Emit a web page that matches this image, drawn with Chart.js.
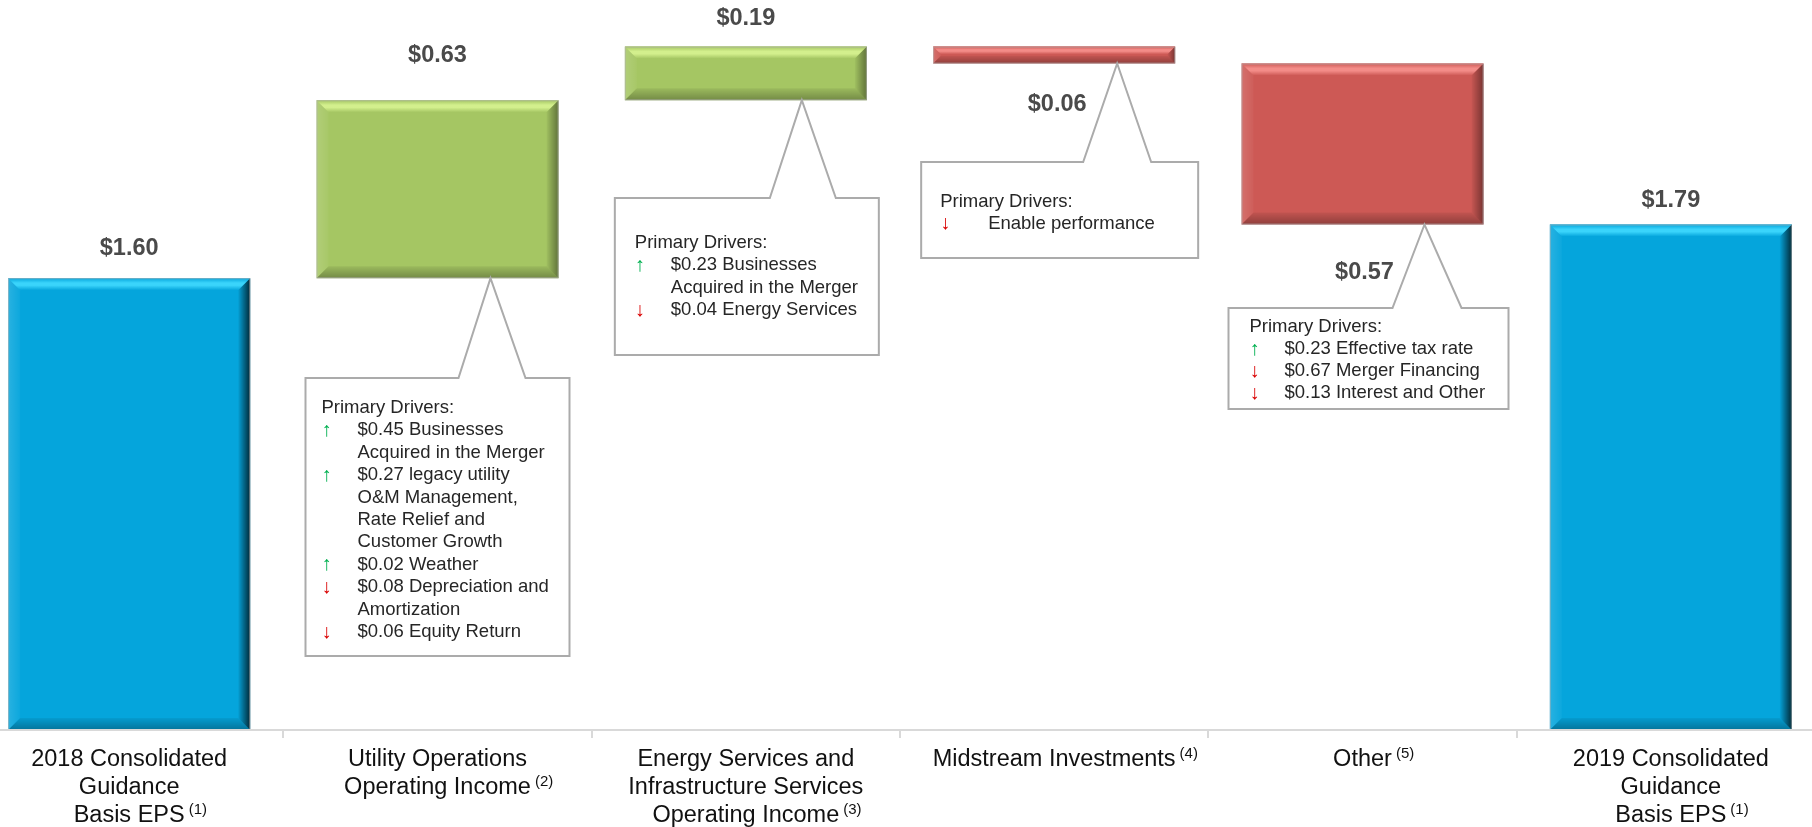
<!DOCTYPE html>
<html>
<head>
<meta charset="utf-8">
<script src="https://cdn.jsdelivr.net/npm/chart.js@4.4.1/dist/chart.umd.min.js"></script>
<style>
  html, body { margin: 0; padding: 0; background: #fff; overflow: hidden; }
  #wrap { position: absolute; left: -25px; top: 0; width: 1850px; height: 827px; }
</style>
</head>
<body>
<div id="wrap"><canvas id="eps"></canvas></div>
<script>
// categories (multi-line) and their footnote marks
const categories = [
  ['2018 Consolidated', 'Guidance', 'Basis EPS'],
  ['Utility Operations', 'Operating Income'],
  ['Energy Services and', 'Infrastructure Services', 'Operating Income'],
  ['Midstream Investments'],
  ['Other'],
  ['2019 Consolidated', 'Guidance', 'Basis EPS']
];
const footnotes = ['(1)', '(2)', '(3)', '(4)', '(5)', '(1)'];

// EPS bridge values ($/share); totals start from zero
const changes = [1.60, 0.63, 0.19, -0.06, -0.57, 1.79];
const isTotal = [true, false, false, false, false, true];

// callout texts: [arrow, text]
const driversUtility = [
  ['', 'Primary Drivers:'],
  ['up', '$0.45 Businesses'],
  ['', 'Acquired in the Merger'],
  ['up', '$0.27 legacy utility'],
  ['', 'O&M Management,'],
  ['', 'Rate Relief and'],
  ['', 'Customer Growth'],
  ['up', '$0.02 Weather'],
  ['down', '$0.08 Depreciation and'],
  ['', 'Amortization'],
  ['down', '$0.06 Equity Return']
];
const driversEnergy = [
  ['', 'Primary Drivers:'],
  ['up', '$0.23 Businesses'],
  ['', 'Acquired in the Merger'],
  ['down', '$0.04 Energy Services']
];
const driversMidstream = [
  ['', 'Primary Drivers:'],
  ['down', 'Enable performance']
];
const driversOther = [
  ['', 'Primary Drivers:'],
  ['up', '$0.23 Effective tax rate'],
  ['down', '$0.67 Merger Financing'],
  ['down', '$0.13 Interest and Other']
];

// floating bars built from the changes
let running = 0;
const floating = changes.map((v, i) => {
  if (isTotal[i]) { running = v; return [0, v]; }
  const start = running;
  running = Math.round((running + v) * 100) / 100;
  return [start, running];
});

const BLUE = '#05A5DC', GREEN = '#A5C663', RED = '#CD5955';
const barColors = changes.map((v, i) => isTotal[i] ? BLUE : (v >= 0 ? GREEN : RED));
const barLights = changes.map((v, i) => isTotal[i] ? '#3AD4FB' : (v >= 0 ? '#D3EF8D' : '#F38C88'));
const edgeDark = changes.map((v, i) => isTotal[i] ? 0.75 : 0.42);

// label placement (pixels from the bar's top or bottom)
const valueLabelPos = [
  { side: 'top', d: 30, dx: 0 },
  { side: 'top', d: 45, dx: 0 },
  { side: 'top', d: 28, dx: 0 },
  { side: 'bottom', d: 41, dx: 3 },
  { side: 'bottom', d: 48, dx: 2 },
  { side: 'top', d: 24, dx: 0 }
];

// callout boxes: x relative to bar centre, y in page pixels
const callouts = [
  { bar: 1, lines: driversUtility, left: -132, right: 132, top: 378, bottom: 656, base: [21, 88], tip: 53, arrowX: 16, textX: 52, firstY: 408, lineH: 22.4 },
  { bar: 2, lines: driversEnergy, left: -131, right: 133, top: 198, bottom: 355, base: [24, 90], tip: 56, arrowX: 20, textX: 56, firstY: 243, lineH: 22.4 },
  { bar: 3, lines: driversMidstream, left: -133, right: 144, top: 162, bottom: 258, base: [29, 97], tip: 63, arrowX: 19, textX: 67, firstY: 202, lineH: 21.5 },
  { bar: 4, lines: driversOther, left: -134, right: 146, top: 308, bottom: 409, base: [30, 99], tip: 62, arrowX: 21, textX: 56, firstY: 327, lineH: 22 }
];

const FONT = "'Liberation Sans', Arial, sans-serif";
Chart.defaults.font.family = FONT;

function barBox(bar) {
  const p = bar.getProps(['x', 'y', 'base', 'width'], true);
  return {
    cx: p.x,
    l: p.x - p.width / 2,
    r: p.x + p.width / 2,
    t: Math.min(p.y, p.base),
    b: Math.max(p.y, p.base)
  };
}

function poly(ctx, pts, fill) {
  ctx.beginPath();
  ctx.moveTo(pts[0][0], pts[0][1]);
  for (let k = 1; k < pts.length; k++) ctx.lineTo(pts[k][0], pts[k][1]);
  ctx.closePath();
  ctx.fillStyle = fill;
  ctx.fill();
}

const bevelPlugin = {
  id: 'bevel',
  afterDatasetsDraw(chart) {
    const ctx = chart.ctx;
    chart.getDatasetMeta(0).data.forEach((bar, i) => {
      const { l, r, t, b } = barBox(bar);
      const s = Math.min(12, (b - t) / 2.2);
      ctx.save();
      let g = ctx.createLinearGradient(0, t, 0, t + s);
      g.addColorStop(0, barColors[i]);
      g.addColorStop(0.4, barLights[i]);
      g.addColorStop(0.6, barLights[i]);
      g.addColorStop(1, barColors[i]);
      poly(ctx, [[l, t], [r, t], [r - s, t + s], [l + s, t + s]], g);
      g = ctx.createLinearGradient(l, 0, l + s, 0);
      g.addColorStop(0, 'rgba(255,255,255,0.14)');
      g.addColorStop(1, 'rgba(255,255,255,0.03)');
      poly(ctx, [[l, t], [l + s, t + s], [l + s, b - s], [l, b]], g);
      g = ctx.createLinearGradient(r - s, 0, r, 0);
      g.addColorStop(0, 'rgba(0,0,0,0.03)');
      g.addColorStop(1, 'rgba(0,0,0,' + edgeDark[i] + ')');
      poly(ctx, [[r, t], [r, b], [r - s, b - s], [r - s, t + s]], g);
      g = ctx.createLinearGradient(0, b - s, 0, b);
      g.addColorStop(0, 'rgba(0,0,0,0.06)');
      g.addColorStop(1, 'rgba(0,0,0,0.3)');
      poly(ctx, [[l, b], [r, b], [r - s, b - s], [l + s, b - s]], g);
      ctx.strokeStyle = 'rgba(175,175,175,0.6)';
      ctx.lineWidth = 1;
      ctx.strokeRect(l + 0.5, t + 0.5, r - l - 1, b - t - 1);
      ctx.restore();
    });
  }
};

const labelPlugin = {
  id: 'labels',
  afterDraw(chart) {
    const ctx = chart.ctx;
    const meta = chart.getDatasetMeta(0);
    ctx.save();

    // value labels
    ctx.font = 'bold 23.5px ' + FONT;
    ctx.fillStyle = '#4A4A4A';
    ctx.textAlign = 'center';
    ctx.textBaseline = 'middle';
    meta.data.forEach((bar, i) => {
      const bx = barBox(bar);
      const pos = valueLabelPos[i];
      const y = pos.side === 'top' ? bx.t - pos.d : bx.b + pos.d;
      ctx.fillText('$' + Math.abs(changes[i]).toFixed(2), bx.cx + pos.dx, y);
    });

    // category labels with footnote marks
    const xs = chart.scales.x;
    categories.forEach((lines, i) => {
      const x = xs.getPixelForValue(i);
      lines.forEach((line, k) => {
        const y = 766 + k * 28;
        ctx.font = '23.5px ' + FONT;
        ctx.fillStyle = '#111';
        ctx.textAlign = 'center';
        ctx.textBaseline = 'alphabetic';
        ctx.fillText(line, x, y);
        if (k === lines.length - 1) {
          const w = ctx.measureText(line).width;
          ctx.font = '15px ' + FONT;
          ctx.textAlign = 'left';
          ctx.fillText(footnotes[i], x + w / 2 + 4, y - 8);
        }
      });
    });

    // callouts
    callouts.forEach(c => {
      const bx = barBox(meta.data[c.bar]);
      const cx = bx.cx;
      ctx.beginPath();
      ctx.moveTo(cx + c.left, c.top);
      ctx.lineTo(cx + c.base[0], c.top);
      ctx.lineTo(cx + c.tip, bx.b);
      ctx.lineTo(cx + c.base[1], c.top);
      ctx.lineTo(cx + c.right, c.top);
      ctx.lineTo(cx + c.right, c.bottom);
      ctx.lineTo(cx + c.left, c.bottom);
      ctx.closePath();
      ctx.fillStyle = '#fff';
      ctx.fill();
      ctx.strokeStyle = '#ABABAB';
      ctx.lineWidth = 2;
      ctx.lineJoin = 'miter';
      ctx.stroke();

      ctx.textAlign = 'left';
      ctx.textBaseline = 'middle';
      c.lines.forEach(([arrow, text], k) => {
        const y = c.firstY + k * c.lineH;
        if (k === 0) {
          ctx.font = '18.5px ' + FONT;
          ctx.fillStyle = '#262626';
          ctx.fillText(text, cx + c.left + c.arrowX, y);
          return;
        }
        if (arrow) {
          ctx.font = 'bold 20px ' + FONT;
          ctx.fillStyle = arrow === 'up' ? '#00B050' : '#D90000';
          ctx.fillText(arrow === 'up' ? '\u2191' : '\u2193', cx + c.left + c.arrowX, y);
        }
        ctx.font = '18.5px ' + FONT;
        ctx.fillStyle = '#262626';
        ctx.fillText(text, cx + c.left + c.textX, y);
      });
    });
    ctx.restore();
  }
};

new Chart(document.getElementById('eps'), {
  type: 'bar',
  data: {
    labels: categories,
    datasets: [{
      data: floating,
      backgroundColor: barColors,
      borderWidth: 0,
      borderSkipped: false,
      barPercentage: 0.785,
      categoryPercentage: 1
    }]
  },
  options: {
    responsive: true,
    maintainAspectRatio: false,
    animation: false,
    layout: {
      padding: { top: 24, left: 0, right: 0, bottom: 0 }
    },
    plugins: {
      legend: { display: false },
      tooltip: { enabled: false }
    },
    scales: {
      x: {
        grid: {
          offset: true,
          drawOnChartArea: false,
          drawTicks: true,
          tickLength: 8,
          color: '#D9D9D9',
          lineWidth: 2
        },
        border: { display: true, color: '#D9D9D9', width: 2, z: 1 },
        ticks: { display: false },
        afterFit(axis) { axis.height = 97; }
      },
      y: {
        display: false,
        min: 0,
        max: 2.5
      }
    }
  },
  plugins: [bevelPlugin, labelPlugin]
});
</script>
</body>
</html>
